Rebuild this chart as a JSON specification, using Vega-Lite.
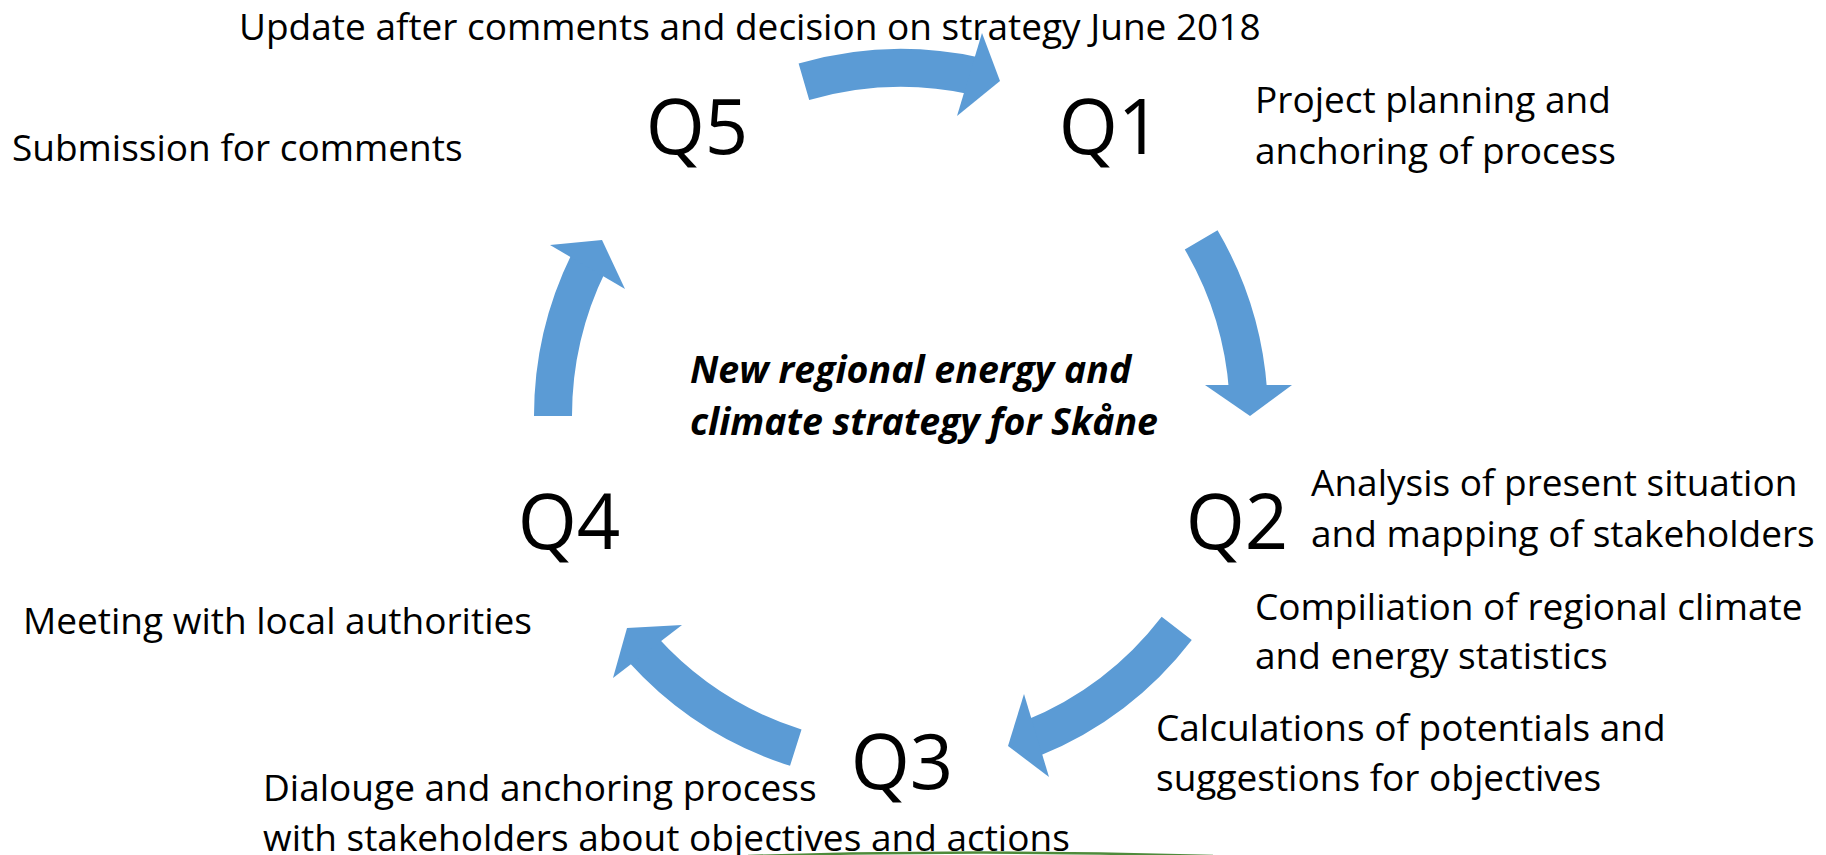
{
  "$schema": "https://vega.github.io/schema/vega-lite/v6.json",
  "width": 1826,
  "height": 855,
  "padding": 0,
  "autosize": {"type": "none"},
  "background": "white",
  "config": {"view": {"stroke": null}},
  "datasets": {
    "bands": [
      {"arrow": "Q5-Q1", "x": 901, "y": 416, "t1": -16.2, "t2": 12.3, "ri": 329, "ro": 367},
      {"arrow": "Q1-Q2", "x": 901, "y": 416, "t1": 59.6, "t2": 85.9, "ri": 329, "ro": 367},
      {"arrow": "Q2-Q3", "x": 901, "y": 416, "t1": 127.6, "t2": 157.9, "ri": 329, "ro": 367},
      {"arrow": "Q3-Q4", "x": 901, "y": 416, "t1": 197.6, "t2": 227.9, "ri": 329, "ro": 367},
      {"arrow": "Q4-Q5", "x": 901, "y": 416, "t1": 270, "t2": 296.2, "ri": 329, "ro": 367}
    ],
    "heads": [
      {"arrow": "Q5-Q1", "i": 1, "x": 982, "y": 33},
      {"arrow": "Q5-Q1", "i": 2, "x": 1000, "y": 81},
      {"arrow": "Q5-Q1", "i": 3, "x": 957, "y": 116},
      {"arrow": "Q1-Q2", "i": 1, "x": 1205, "y": 385},
      {"arrow": "Q1-Q2", "i": 2, "x": 1250, "y": 416},
      {"arrow": "Q1-Q2", "i": 3, "x": 1292, "y": 385},
      {"arrow": "Q2-Q3", "i": 1, "x": 1024, "y": 694},
      {"arrow": "Q2-Q3", "i": 2, "x": 1008, "y": 746},
      {"arrow": "Q2-Q3", "i": 3, "x": 1049, "y": 777},
      {"arrow": "Q3-Q4", "i": 1, "x": 682, "y": 625},
      {"arrow": "Q3-Q4", "i": 2, "x": 627, "y": 628},
      {"arrow": "Q3-Q4", "i": 3, "x": 613, "y": 678},
      {"arrow": "Q4-Q5", "i": 1, "x": 550, "y": 245},
      {"arrow": "Q4-Q5", "i": 2, "x": 602, "y": 240},
      {"arrow": "Q4-Q5", "i": 3, "x": 625, "y": 289}
    ],
    "green": [
      {"x": 748, "y": 856},
      {"x": 850, "y": 853.5},
      {"x": 980, "y": 852.5},
      {"x": 1100, "y": 853.5},
      {"x": 1213, "y": 856}
    ],
    "labels": [
      {"x": 239, "y": 40, "t": "Update after comments and decision on strategy June 2018"},
      {"x": 1255, "y": 113, "t": "Project planning and"},
      {"x": 1255, "y": 164, "t": "anchoring of process"},
      {"x": 12, "y": 161, "t": "Submission for comments"},
      {"x": 1311, "y": 496, "t": "Analysis of present situation"},
      {"x": 1311, "y": 547, "t": "and mapping of stakeholders"},
      {"x": 23, "y": 634, "t": "Meeting with local authorities"},
      {"x": 1255, "y": 620, "t": "Compiliation of regional climate"},
      {"x": 1255, "y": 669, "t": "and energy statistics"},
      {"x": 1156, "y": 741, "t": "Calculations of potentials and"},
      {"x": 1156, "y": 791, "t": "suggestions for objectives"},
      {"x": 263, "y": 801, "t": "Dialouge and anchoring process"},
      {"x": 263, "y": 851, "t": "with stakeholders about objectives and actions"}
    ],
    "quarters": [
      {"x": 697, "y": 154, "t": "Q5"},
      {"x": 1110, "y": 154, "t": "Q1"},
      {"x": 1237, "y": 549, "t": "Q2"},
      {"x": 902, "y": 789, "t": "Q3"},
      {"x": 569, "y": 549, "t": "Q4"}
    ],
    "title": [
      {"x": 690, "y": 383, "t": "New regional energy and"},
      {"x": 690, "y": 435, "t": "climate strategy for Skåne"}
    ]
  },
  "layer": [
    {
      "data": {"name": "bands"},
      "mark": {"type": "arc", "color": "#5B9BD5"},
      "encoding": {
        "x": {"field": "x", "type": "quantitative", "axis": null, "scale": {"domain": [0, 1826], "nice": false, "zero": false}},
        "y": {"field": "y", "type": "quantitative", "axis": null, "scale": {"domain": [0, 855], "nice": false, "zero": false, "reverse": true}},
        "theta": {"field": "t1", "type": "quantitative", "stack": null, "scale": {"domain": [0, 360], "range": [0, 6.283185307], "nice": false, "zero": false}},
        "theta2": {"field": "t2"},
        "radius": {"field": "ro", "type": "quantitative", "scale": {"type": "linear", "domain": [0, 400], "range": [0, 400], "nice": false, "zero": true}},
        "radius2": {"field": "ri"}
      }
    },
    {
      "data": {"name": "heads"},
      "mark": {"type": "line", "filled": true, "fill": "#5B9BD5", "strokeWidth": 0},
      "encoding": {
        "x": {"field": "x", "type": "quantitative"},
        "y": {"field": "y", "type": "quantitative"},
        "detail": {"field": "arrow"},
        "order": {"field": "i", "type": "quantitative"}
      }
    },
    {
      "data": {"name": "green"},
      "mark": {"type": "line", "stroke": "#4E8A3A", "strokeWidth": 2.5, "interpolate": "monotone"},
      "encoding": {
        "x": {"field": "x", "type": "quantitative"},
        "y": {"field": "y", "type": "quantitative"}
      }
    },
    {
      "data": {"name": "labels"},
      "mark": {"type": "text", "align": "left", "baseline": "alphabetic", "font": "Open Sans", "fontSize": 37, "color": "black"},
      "encoding": {
        "x": {"field": "x", "type": "quantitative"},
        "y": {"field": "y", "type": "quantitative"},
        "text": {"field": "t"}
      }
    },
    {
      "data": {"name": "quarters"},
      "mark": {"type": "text", "align": "center", "baseline": "alphabetic", "font": "Open Sans", "fontSize": 76, "color": "black"},
      "encoding": {
        "x": {"field": "x", "type": "quantitative"},
        "y": {"field": "y", "type": "quantitative"},
        "text": {"field": "t"}
      }
    },
    {
      "data": {"name": "title"},
      "mark": {"type": "text", "align": "left", "baseline": "alphabetic", "font": "Open Sans", "fontSize": 37.5, "fontWeight": "bold", "fontStyle": "italic", "color": "black"},
      "encoding": {
        "x": {"field": "x", "type": "quantitative"},
        "y": {"field": "y", "type": "quantitative"},
        "text": {"field": "t"}
      }
    }
  ]
}
